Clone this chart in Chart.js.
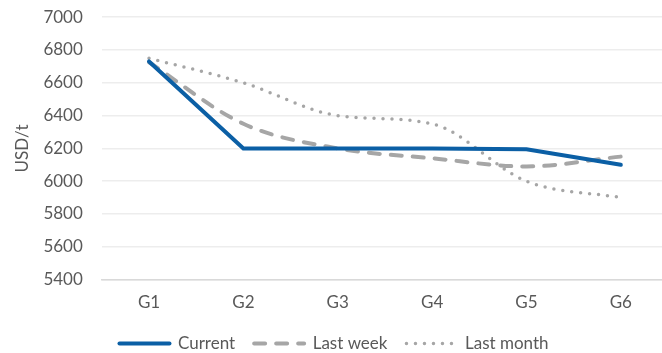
<!DOCTYPE html>
<html>
<head>
<meta charset="utf-8">
<script src="https://cdn.jsdelivr.net/npm/chart.js@4/dist/chart.umd.min.js"></script>
<style>
  html, body { margin: 0; padding: 0; background: #fff; overflow: hidden; }
  #wrap { width: 668px; height: 353px; position: relative; }
</style>
</head>
<body>
<div id="wrap"><canvas id="priceChart"></canvas></div>
<script>
// Price curve by grade, USD per tonne
const grades = ['G1', 'G2', 'G3', 'G4', 'G5', 'G6'];
const current = [6730, 6200, 6200, 6200, 6195, 6100];
const lastWeek = [6725, 6350, 6200, 6140, 6090, 6150];
const lastMonth = [6750, 6600, 6400, 6350, 6000, 5900];
const yTicks = { min: 5400, max: 7000, step: 200 };

const FONT = 'Lato, "Open Sans", sans-serif';
const TEXT = '#595959';
const BLUE = '#0B5FA5';
const GREY = '#A6A6A6';

// legend samples follow each dataset's own line style
function lineLabels(chart) {
  const items = Chart.defaults.plugins.legend.labels.generateLabels(chart);
  return items.map((item) => {
    const ds = chart.data.datasets[item.datasetIndex];
    return {
      ...item,
      lineDash: ds.borderDash || [],
      lineCap: ds.borderCapStyle || 'butt',
      lineWidth: ds.borderWidth,
      strokeStyle: ds.borderColor
    };
  });
}

new Chart(document.getElementById('priceChart'), {
  type: 'line',
  data: {
    labels: grades,
    datasets: [
      {
        label: 'Current',
        data: current,
        borderColor: BLUE,
        backgroundColor: BLUE,
        borderWidth: 4,
        borderCapStyle: 'round',
        borderJoinStyle: 'miter',
        pointRadius: 0,
        tension: 0
      },
      {
        label: 'Last week',
        data: lastWeek,
        borderColor: GREY,
        backgroundColor: GREY,
        borderWidth: 4,
        borderDash: [11, 11],
        borderCapStyle: 'round',
        pointRadius: 0,
        cubicInterpolationMode: 'monotone'
      },
      {
        label: 'Last month',
        data: lastMonth,
        borderColor: GREY,
        backgroundColor: GREY,
        borderWidth: 3.5,
        borderDash: [0, 9],
        borderCapStyle: 'round',
        pointRadius: 0,
        cubicInterpolationMode: 'monotone'
      }
    ]
  },
  options: {
    responsive: true,
    maintainAspectRatio: false,
    animation: false,
    devicePixelRatio: 1,
    layout: { padding: { left: 0, right: 0, top: 0, bottom: -9 } },
    plugins: {
      tooltip: { enabled: false },
      legend: {
        position: 'bottom',
        labels: {
          usePointStyle: true,
          pointStyle: 'line',
          pointStyleWidth: 50,
          padding: 19,
          color: TEXT,
          font: { family: FONT, size: 17 },
          generateLabels: lineLabels
        }
      }
    },
    scales: {
      x: {
        offset: true,
        // invisible tick marks keep the labels clear of the axis line
        grid: { display: true, drawOnChartArea: false, drawTicks: true, tickLength: 10, tickColor: 'rgba(0,0,0,0)' },
        border: { color: '#D9D9D9', width: 1.5 },
        ticks: { color: TEXT, font: { family: FONT, size: 17 }, padding: 3 }
      },
      y: {
        min: yTicks.min,
        max: yTicks.max,
        grid: { color: '#EDEDED', lineWidth: 1.5, drawTicks: true, tickLength: 12, tickColor: 'rgba(0,0,0,0)' },
        border: { display: false },
        ticks: {
          stepSize: yTicks.step,
          color: TEXT,
          font: { family: FONT, size: 17 },
          padding: 7,
          callback: (v) => String(v)
        },
        title: { display: true, text: 'USD/t', color: TEXT, font: { family: FONT, size: 17 }, padding: { top: 12, bottom: 4 } }
      }
    }
  }
});
</script>
</body>
</html>
